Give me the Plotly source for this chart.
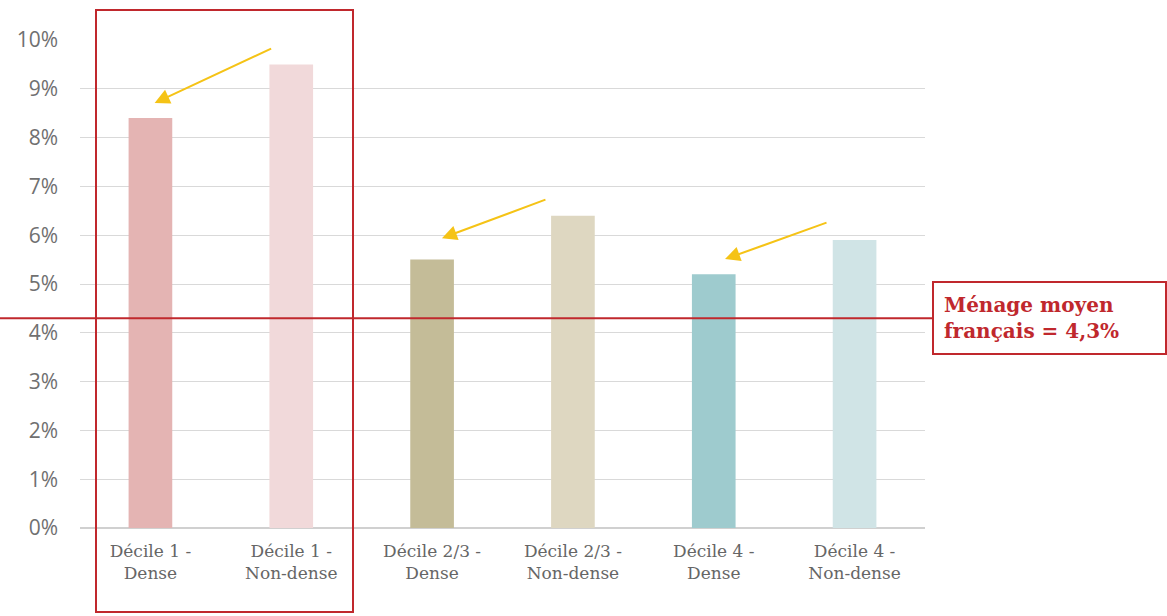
import plotly.graph_objects as go

categories = ["Décile 1 -<br>Dense", "Décile 1 -<br>Non-dense", "Décile 2/3 -<br>Dense",
              "Décile 2/3 -<br>Non-dense", "Décile 4 -<br>Dense", "Décile 4 -<br>Non-dense"]
values = [8.4, 9.5, 5.5, 6.4, 5.2, 5.9]
colors = ["#e4b4b3", "#f1d9da", "#c4bc98", "#ded7c1", "#9ecbce", "#d0e4e6"]
average = 4.3
tick_vals = [0, 1, 2, 3, 4, 5, 6, 7, 8, 9, 10]
tick_text = [f"{v}%" for v in tick_vals]

RED = "#c0282d"
YEL = "#f5c316"

fig = go.Figure()
fig.add_trace(go.Bar(x=list(range(len(categories))), y=values, marker_color=colors,
                     marker_line_width=0, width=0.31, showlegend=False, hoverinfo="skip"))

fig.update_layout(
    width=1167, height=616,
    margin=dict(l=80, r=242, t=40, b=88),
    paper_bgcolor="white", plot_bgcolor="white",
    xaxis=dict(range=[-0.5, 5.5], tickvals=list(range(len(categories))), ticktext=categories,
               tickfont=dict(family="DejaVu Serif", size=17, color="#666666"),
               showgrid=False, zeroline=False, showline=False, ticks="", ticklabelstandoff=11),
    yaxis=dict(range=[0, 10], tickvals=tick_vals, ticktext=tick_text,
               tickfont=dict(family="Open Sans", size=21, color="#707070"),
               showgrid=True, gridcolor="#d9d9d9", gridwidth=1, zeroline=True,
               zerolinecolor="#d0d0d0", zerolinewidth=2, showline=False, ticklabelstandoff=21),
)

# red box around first two categories
fig.add_shape(type="rect", xref="paper", yref="paper",
              x0=(96 - 80) / 845, x1=(353 - 80) / 845, y0=-(612 - 528) / 488, y1=(528 - 10) / 488,
              line=dict(color=RED, width=2), fillcolor="rgba(0,0,0,0)", layer="above")

# average line
fig.add_shape(type="line", xref="paper", yref="y",
              x0=-80 / 845, x1=(935 - 80) / 845, y0=average, y1=average,
              line=dict(color=RED, width=2), layer="above")

fig.add_annotation(xref="paper", yref="y", x=(932 - 80) / 845, y=average,
                   xanchor="left", yanchor="middle", showarrow=False, align="left",
                   text="<b>Ménage moyen<br>français = 4,3%</b>", width=211,
                   font=dict(family="DejaVu Serif", size=20, color=RED),
                   bordercolor=RED, borderwidth=2, borderpad=10, bgcolor="white")

# arrows
for (hx, hy, ax, ay) in [(0.03, 8.71, 118, -55), (2.07, 5.94, 105, -39), (4.08, 5.51, 103, -37)]:
    fig.add_annotation(x=hx, y=hy, ax=ax, ay=ay, xref="x", yref="y", showarrow=True,
                       arrowhead=2, arrowsize=1.5, arrowwidth=2, arrowcolor=YEL, text="")

fig.write_html("out.html")
